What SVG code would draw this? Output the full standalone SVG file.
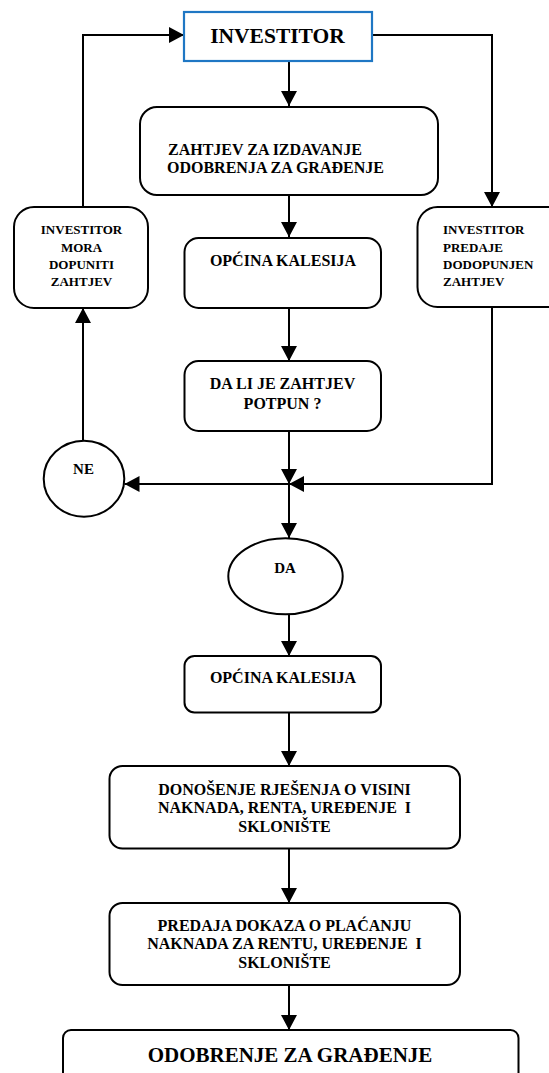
<svg xmlns="http://www.w3.org/2000/svg" width="549" height="1073" viewBox="0 0 549 1073">
<style>
.box{fill:#fff;stroke:#000;stroke-width:2}
.blue{fill:#fff;stroke:#1F77C4;stroke-width:2.2}
.t{font-family:"Liberation Serif","Times New Roman",serif;font-weight:bold;fill:#000;white-space:pre}
.c{text-anchor:middle}
.line{fill:none;stroke:#000;stroke-width:2}
</style>
<defs>
<marker id="ah" markerUnits="userSpaceOnUse" markerWidth="16" markerHeight="16" refX="15" refY="8" orient="auto">
<path d="M0,0 L15,8 L0,16 Z" fill="#000"/>
</marker>
</defs>
<rect x="0" y="0" width="549" height="1073" fill="#fff"/>
<g id="connectors">
<path class="line" d="M289,61 V106" marker-end="url(#ah)"/>
<path class="line" d="M289,195 V237" marker-end="url(#ah)"/>
<path class="line" d="M289,308 V361" marker-end="url(#ah)"/>
<path class="line" d="M289,431 V484" marker-end="url(#ah)"/>
<path class="line" d="M289,484 V538" marker-end="url(#ah)"/>
<path class="line" d="M492,307 V484 H289" marker-end="url(#ah)"/>
<path class="line" d="M289,484 H124.5" marker-end="url(#ah)"/>
<path class="line" d="M83,441 V308" marker-end="url(#ah)"/>
<path class="line" d="M83,207 V35 H184" marker-end="url(#ah)"/>
<path class="line" d="M372,35 H492 V207" marker-end="url(#ah)"/>
<path class="line" d="M289,614 V656" marker-end="url(#ah)"/>
<path class="line" d="M289,712 V766" marker-end="url(#ah)"/>
<path class="line" d="M289,849 V903" marker-end="url(#ah)"/>
<path class="line" d="M289,985 V1030" marker-end="url(#ah)"/>
</g>
<g id="investitor">
<rect class="blue" x="184" y="12" width="188" height="49"/>
<text class="t c" x="277.5" y="43" font-size="21.5">INVESTITOR</text>
</g>
<g id="zahtjev">
<rect class="box" x="140" y="107" width="298" height="88" rx="17"/>
<text class="t" x="168" y="154.5" font-size="16">ZAHTJEV ZA IZDAVANJE</text>
<text class="t" x="167" y="172.5" font-size="16">ODOBRENJA ZA GRAĐENJE</text>
</g>
<g id="opcina1">
<rect class="box" x="184.5" y="238" width="196.5" height="70" rx="14"/>
<text class="t c" x="283" y="266" font-size="16">OPĆINA KALESIJA</text>
</g>
<g id="dopuniti">
<rect class="box" x="14" y="207" width="134" height="101" rx="20"/>
<text class="t c" x="81.5" y="234" font-size="13">INVESTITOR</text>
<text class="t c" x="81.5" y="251.5" font-size="13">MORA</text>
<text class="t c" x="81.5" y="268.5" font-size="13">DOPUNITI</text>
<text class="t c" x="81.5" y="285.5" font-size="13">ZAHTJEV</text>
</g>
<g id="predaje">
<rect class="box" x="417.5" y="207" width="150" height="100" rx="20"/>
<text class="t" x="443" y="234" font-size="13">INVESTITOR</text>
<text class="t" x="443" y="251.5" font-size="13">PREDAJE</text>
<text class="t" x="443" y="268.5" font-size="13">DODOPUNJEN</text>
<text class="t" x="443" y="285.5" font-size="13">ZAHTJEV</text>
</g>
<g id="potpun">
<rect class="box" x="184.5" y="361" width="196.5" height="70" rx="14"/>
<text class="t c" x="282.5" y="389" font-size="16">DA LI JE ZAHTJEV</text>
<text class="t c" x="282.5" y="409" font-size="16">POTPUN ?</text>
</g>
<g id="ne">
<ellipse class="box" cx="84" cy="478.7" rx="40.3" ry="38"/>
<text class="t c" x="83.5" y="474" font-size="15">NE</text>
</g>
<g id="da">
<ellipse class="box" cx="285.5" cy="576.3" rx="57.2" ry="38"/>
<text class="t c" x="285" y="572.5" font-size="15">DA</text>
</g>
<g id="opcina2">
<rect class="box" x="184.5" y="656" width="196.5" height="56.5" rx="10"/>
<text class="t c" x="283" y="683" font-size="16">OPĆINA KALESIJA</text>
</g>
<g id="donosenje">
<rect class="box" x="109.5" y="766" width="350.5" height="82.5" rx="13"/>
<text class="t c" x="284.5" y="794.5" font-size="16">DONOŠENJE RJEŠENJA O VISINI</text>
<text class="t c" x="284.5" y="813" font-size="16">NAKNADA, RENTA, UREĐENJE  I</text>
<text class="t c" x="284.5" y="832" font-size="16">SKLONIŠTE</text>
</g>
<g id="predaja">
<rect class="box" x="109.5" y="903" width="350.5" height="82" rx="13"/>
<text class="t c" x="284.5" y="931" font-size="16">PREDAJA DOKAZA O PLAĆANJU</text>
<text class="t c" x="284.5" y="948.5" font-size="16">NAKNADA ZA RENTU, UREĐENJE  I</text>
<text class="t c" x="284.5" y="968" font-size="16">SKLONIŠTE</text>
</g>
<g id="odobrenje">
<rect class="box" x="63" y="1030" width="455.5" height="60" rx="8"/>
<text class="t c" x="290" y="1062" font-size="21">ODOBRENJE ZA GRAĐENJE</text>
</g>
</svg>
